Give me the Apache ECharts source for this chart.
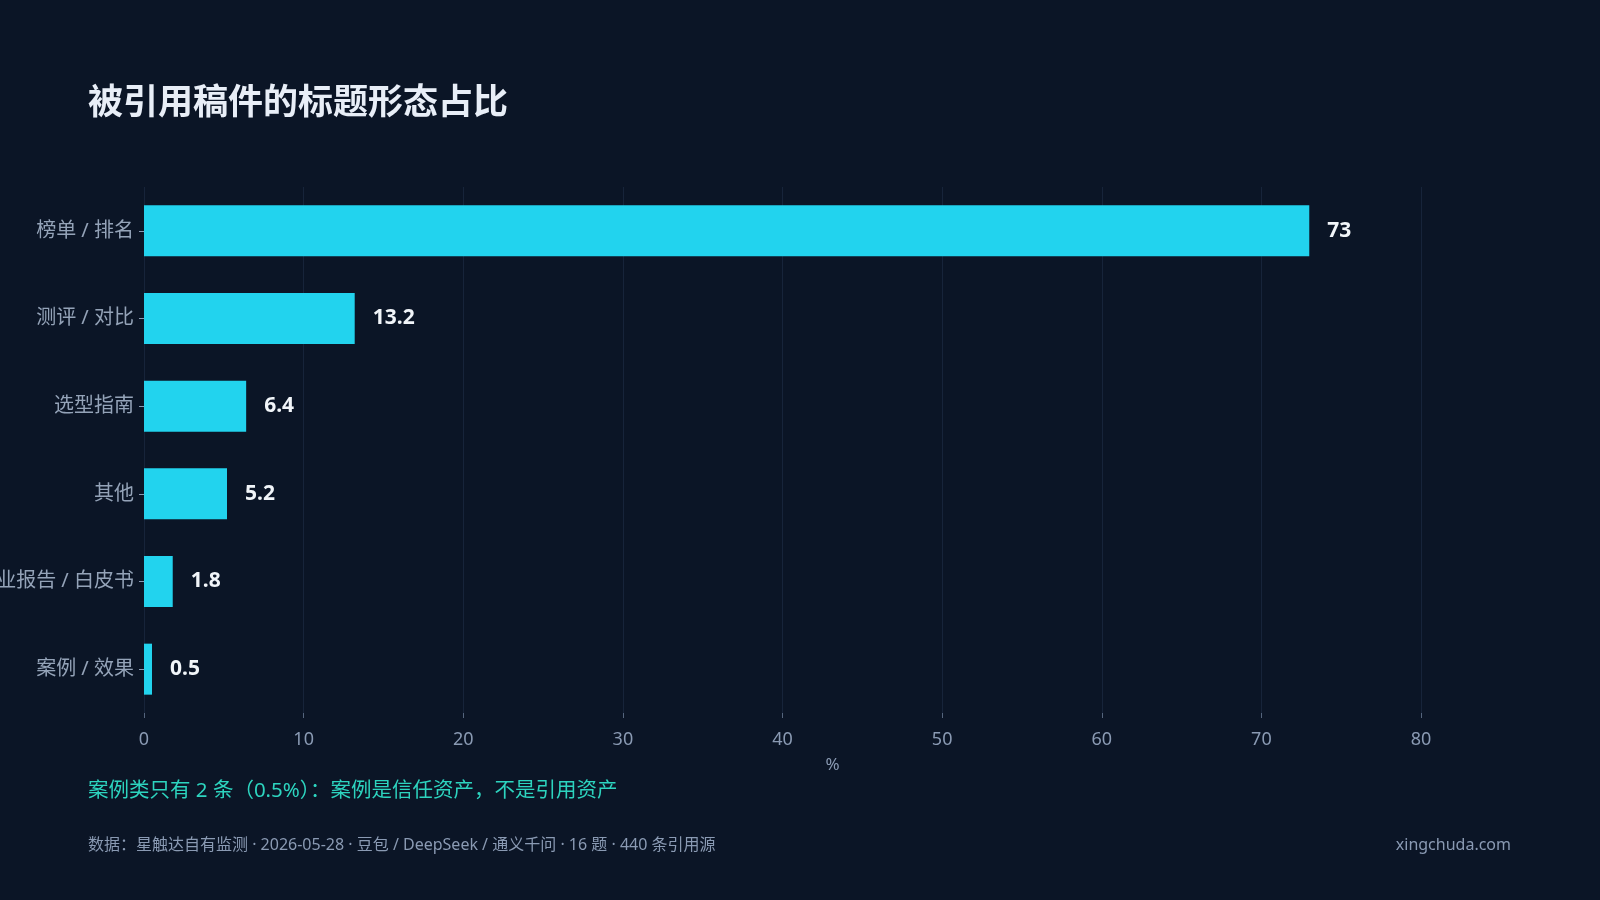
<!DOCTYPE html>
<html lang="zh">
<head>
    <meta charset="UTF-8">
    <title>被引用稿件的标题形态占比</title>
    <style>
        html, body { margin: 0; padding: 0; background: #0b1526; }
        .chart { width: 1600px; height: 900px; }
    </style>
</head>
<body>
<div class="chart" id="showData"></div>
<script src="https://cdn.jsdelivr.net/npm/echarts@6/dist/echarts.min.js"></script>
<script>
    var categories = ['榜单 / 排名', '测评 / 对比', '选型指南', '其他', '行业报告 / 白皮书', '案例 / 效果'];
    var values = [73, 13.2, 6.4, 5.2, 1.8, 0.5];
    var xTicks = { min: 0, max: 80, interval: 10 };

    var font = '"Noto Sans", "Noto Sans CJK SC", sans-serif';

    var mychart = echarts.init(document.getElementById('showData'));
    var option = {
        backgroundColor: '#0b1526',
        textStyle: { fontFamily: font },
        title: [{
            text: '被引用稿件的标题形态占比',
            left: 83,
            top: 82,
            textStyle: { color: '#e8eef7', fontSize: 35, fontWeight: 'bold', fontFamily: font }
        }, {
            text: '案例类只有 2 条（0.5%）：案例是信任资产，不是引用资产',
            left: 83,
            top: 776,
            textStyle: { color: '#2dd4bf', fontSize: 20.5, fontWeight: 'normal', fontFamily: font }
        }, {
            text: '数据：星触达自有监测 · 2026-05-28 · 豆包 / DeepSeek / 通义千问 · 16 题 · 440 条引用源',
            left: 83,
            top: 832,
            textStyle: { color: '#8a9ab3', fontSize: 16, fontWeight: 'normal', fontFamily: font }
        }, {
            text: 'xingchuda.com',
            right: 84,
            top: 832,
            textStyle: { color: '#8a9ab3', fontSize: 16, fontWeight: 'normal', fontFamily: font }
        }],
        grid: {
            left: 144,
            right: 179,
            top: 187,
            bottom: 187,
            containLabel: false,
            outerBoundsMode: 'none'
        },
        xAxis: {
            type: 'value',
            min: xTicks.min,
            max: xTicks.max,
            interval: xTicks.interval,
            name: '%',
            nameLocation: 'middle',
            nameGap: 44,
            // the % sits a little right of the axis centre in the original
            nameTextStyle: { color: '#8a9ab3', fontSize: 17, padding: [0, 0, 0, 100] },
            axisLine: { show: false },
            axisTick: { show: true, length: 5, lineStyle: { color: '#55657d' } },
            axisLabel: { color: '#8a9ab3', fontSize: 18, margin: 18 },
            splitLine: { show: true, lineStyle: { color: '#17243a', width: 1 } }
        },
        yAxis: {
            type: 'category',
            data: categories,
            inverse: true,
            axisLine: { show: false },
            axisTick: { show: true, length: 5, alignWithLabel: true, lineStyle: { color: '#8a9ab3' } },
            axisLabel: { color: '#94a3b8', fontSize: 20, margin: 10 }
        },
        series: [{
            type: 'bar',
            data: values,
            barWidth: 51,
            itemStyle: { color: '#22d3ee' },
            label: {
                show: true,
                position: 'right',
                distance: 18,
                color: '#f1f5f9',
                fontSize: 21,
                fontWeight: 'bold'
            }
        }]
    };
    mychart.setOption(option);
</script>
</body>
</html>
